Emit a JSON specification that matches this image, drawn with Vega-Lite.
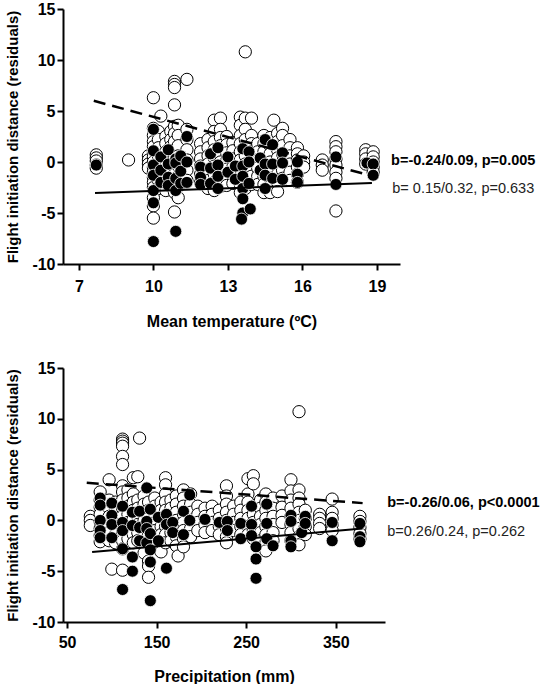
{
  "$schema": "https://vega.github.io/schema/vega-lite/v6.json",
  "description": "Flight initiation distance residuals vs mean temperature and precipitation",
  "padding": {"left": 5, "top": 1, "right": 0, "bottom": 0},
  "spacing": 31,
  "config": {
    "view": {"stroke": null},
    "font": "Liberation Sans",
    "axis": {
      "grid": false,
      "domainColor": "black",
      "domainWidth": 2,
      "tickColor": "black",
      "tickWidth": 2,
      "tickSize": 6,
      "labelFont": "Liberation Sans",
      "labelFontWeight": "bold",
      "labelFontSize": 16,
      "labelColor": "black",
      "titleFont": "Liberation Sans",
      "titleFontWeight": "bold",
      "titleColor": "black",
      "labelExpr": "datum.value + ''"
    }
  },
  "datasets": {
    "tempOpen": [
      {"x":7.7,"y":0.7},{"x":7.7,"y":0.4},{"x":7.7,"y":0.1},{"x":7.7,"y":-0.3},{"x":7.7,"y":-0.6},
      {"x":9.0,"y":0.2},
      {"x":9.8,"y":0.6},{"x":9.8,"y":0.2},{"x":9.8,"y":-0.2},{"x":9.8,"y":-0.6},
      {"x":10.0,"y":6.3},{"x":10.0,"y":3.3},{"x":10.0,"y":2.6},{"x":10.0,"y":2.0},{"x":10.0,"y":1.5},{"x":10.0,"y":1.0},{"x":10.0,"y":0.5},{"x":10.0,"y":0},{"x":10.0,"y":-0.5},{"x":10.0,"y":-1.0},{"x":10.0,"y":-1.5},{"x":10.0,"y":-2.0},{"x":10.0,"y":-2.5},{"x":10.0,"y":-3.5},{"x":10.0,"y":-4.3},{"x":10.0,"y":-5.5},
      {"x":10.2,"y":3.0},{"x":10.2,"y":2.2},{"x":10.2,"y":1.4},{"x":10.2,"y":0.6},{"x":10.2,"y":-0.2},{"x":10.2,"y":-1.0},{"x":10.2,"y":-1.8},{"x":10.2,"y":-2.6},
      {"x":10.3,"y":4.5},
      {"x":10.5,"y":2.5},{"x":10.5,"y":1.8},{"x":10.5,"y":1.0},{"x":10.5,"y":0.3},{"x":10.5,"y":-0.4},{"x":10.5,"y":-1.2},{"x":10.5,"y":-2.0},{"x":10.5,"y":-2.8},
      {"x":10.7,"y":3.0},{"x":10.7,"y":2.2},{"x":10.7,"y":1.5},{"x":10.7,"y":0.7},{"x":10.7,"y":0},{"x":10.7,"y":-0.8},{"x":10.7,"y":-1.6},{"x":10.7,"y":-2.4},
      {"x":10.85,"y":7.9},{"x":10.85,"y":7.6},{"x":10.85,"y":7.3},{"x":10.85,"y":5.6},{"x":10.85,"y":3.5},{"x":10.85,"y":2.8},{"x":10.85,"y":2.0},{"x":10.85,"y":1.2},{"x":10.85,"y":0.4},{"x":10.85,"y":-0.4},{"x":10.85,"y":-1.2},{"x":10.85,"y":-2.0},{"x":10.85,"y":-3.0},{"x":10.85,"y":-4.9},
      {"x":11.0,"y":3.6},{"x":11.0,"y":2.6},{"x":11.0,"y":1.6},{"x":11.0,"y":0.6},{"x":11.0,"y":-0.4},{"x":11.0,"y":-1.4},{"x":11.0,"y":-2.4},{"x":11.0,"y":-3.5},
      {"x":11.35,"y":8.1},{"x":11.35,"y":3.2},{"x":11.35,"y":2.2},{"x":11.35,"y":1.2},{"x":11.35,"y":0.2},{"x":11.35,"y":-0.8},{"x":11.35,"y":-1.8},
      {"x":11.9,"y":1.8},{"x":11.9,"y":1.0},{"x":11.9,"y":0.3},{"x":11.9,"y":-0.4},{"x":11.9,"y":-1.2},{"x":11.9,"y":-2.0},
      {"x":12.2,"y":2.2},{"x":12.2,"y":1.4},{"x":12.2,"y":0.6},{"x":12.2,"y":-0.2},{"x":12.2,"y":-1.0},{"x":12.2,"y":-1.8},{"x":12.2,"y":-2.6},
      {"x":12.45,"y":4.1},{"x":12.45,"y":3.0},{"x":12.45,"y":2.0},{"x":12.45,"y":1.2},{"x":12.45,"y":0.4},{"x":12.45,"y":-0.4},{"x":12.45,"y":-1.2},{"x":12.45,"y":-2.0},{"x":12.45,"y":-2.8},
      {"x":12.7,"y":4.3},{"x":12.7,"y":3.2},{"x":12.7,"y":2.4},{"x":12.7,"y":1.6},{"x":12.7,"y":0.8},{"x":12.7,"y":0},{"x":12.7,"y":-0.8},{"x":12.7,"y":-1.6},{"x":12.7,"y":-2.4},
      {"x":12.95,"y":2.5},{"x":12.95,"y":1.7},{"x":12.95,"y":0.9},{"x":12.95,"y":0.1},{"x":12.95,"y":-0.7},{"x":12.95,"y":-1.5},{"x":12.95,"y":-2.3},
      {"x":13.2,"y":1.9},{"x":13.2,"y":1.1},{"x":13.2,"y":0.3},{"x":13.2,"y":-0.5},{"x":13.2,"y":-1.3},{"x":13.2,"y":-2.1},
      {"x":13.5,"y":4.4},{"x":13.5,"y":3.6},{"x":13.5,"y":2.6},{"x":13.5,"y":1.8},{"x":13.5,"y":1.0},{"x":13.5,"y":0.2},{"x":13.5,"y":-0.6},{"x":13.5,"y":-1.4},{"x":13.5,"y":-2.2},{"x":13.5,"y":-3.0},
      {"x":13.7,"y":10.8},{"x":13.7,"y":4.3},{"x":13.7,"y":3.2},{"x":13.7,"y":2.2},{"x":13.7,"y":1.4},{"x":13.7,"y":0.6},{"x":13.7,"y":-0.2},{"x":13.7,"y":-1.0},{"x":13.7,"y":-1.8},{"x":13.7,"y":-2.6},
      {"x":13.95,"y":4.3},{"x":13.95,"y":2.6},{"x":13.95,"y":1.8},{"x":13.95,"y":1.0},{"x":13.95,"y":0.2},{"x":13.95,"y":-0.6},{"x":13.95,"y":-1.4},{"x":13.95,"y":-2.2},
      {"x":14.2,"y":1.8},{"x":14.2,"y":1.0},{"x":14.2,"y":0.2},{"x":14.2,"y":-0.6},{"x":14.2,"y":-1.4},{"x":14.2,"y":-2.2},
      {"x":14.45,"y":2.6},{"x":14.45,"y":1.8},{"x":14.45,"y":1.0},{"x":14.45,"y":0.2},{"x":14.45,"y":-0.6},{"x":14.45,"y":-1.4},{"x":14.45,"y":-2.2},{"x":14.45,"y":-3.0},
      {"x":14.7,"y":2.4},{"x":14.7,"y":1.6},{"x":14.7,"y":0.8},{"x":14.7,"y":0},{"x":14.7,"y":-0.8},{"x":14.7,"y":-1.6},{"x":14.7,"y":-2.4},{"x":14.7,"y":-3.0},
      {"x":14.85,"y":4.1},
      {"x":15.0,"y":2.8},{"x":15.0,"y":2.0},{"x":15.0,"y":1.2},{"x":15.0,"y":0.4},{"x":15.0,"y":-0.4},{"x":15.0,"y":-1.2},{"x":15.0,"y":-2.0},{"x":15.0,"y":-2.9},
      {"x":15.2,"y":3.3},{"x":15.2,"y":2.6},{"x":15.2,"y":1.6},{"x":15.2,"y":0.8},{"x":15.2,"y":0},{"x":15.2,"y":-0.8},{"x":15.2,"y":-1.6},
      {"x":15.5,"y":2.2},{"x":15.5,"y":1.4},{"x":15.5,"y":0.6},{"x":15.5,"y":-0.2},{"x":15.5,"y":-1.0},{"x":15.5,"y":-1.8},
      {"x":15.8,"y":1.4},{"x":15.8,"y":0.8},{"x":15.8,"y":0.2},{"x":15.8,"y":-0.5},{"x":15.8,"y":-1.2},{"x":15.8,"y":-2.0},
      {"x":16.05,"y":0.6},{"x":16.05,"y":0},{"x":16.05,"y":-0.5},
      {"x":16.8,"y":0.2},{"x":16.8,"y":-0.3},{"x":16.8,"y":-0.8},
      {"x":17.35,"y":2.0},{"x":17.35,"y":1.5},{"x":17.35,"y":1.0},{"x":17.35,"y":0.3},{"x":17.35,"y":-0.3},{"x":17.35,"y":-1.0},{"x":17.35,"y":-1.6},{"x":17.35,"y":-4.8},
      {"x":18.55,"y":1.2},{"x":18.55,"y":0.8},{"x":18.55,"y":0.3},{"x":18.55,"y":-0.2},
      {"x":18.85,"y":1.0},{"x":18.85,"y":0.5},{"x":18.85,"y":0},{"x":18.85,"y":-0.5},{"x":18.85,"y":-1.0}
    ],
    "tempFilled": [
      {"x":7.7,"y":-0.3},
      {"x":10.0,"y":3.2},{"x":10.0,"y":1.1},{"x":10.0,"y":-0.3},{"x":10.0,"y":-1.3},{"x":10.0,"y":-2.8},{"x":10.0,"y":-4.0},{"x":10.0,"y":-7.8},
      {"x":10.3,"y":0.5},{"x":10.3,"y":-0.8},{"x":10.3,"y":-2.0},
      {"x":10.6,"y":1.2},{"x":10.6,"y":-0.2},{"x":10.6,"y":-1.5},{"x":10.6,"y":-2.3},
      {"x":10.9,"y":0.3},{"x":10.9,"y":-0.1},{"x":10.9,"y":-1.6},{"x":10.9,"y":-2.8},{"x":10.9,"y":-6.8},
      {"x":11.1,"y":0.6},{"x":11.1,"y":-0.9},{"x":11.1,"y":-2.1},
      {"x":11.35,"y":2.5},{"x":11.35,"y":0},{"x":11.35,"y":-2.0},
      {"x":11.9,"y":-0.5},{"x":11.9,"y":-1.5},{"x":11.9,"y":-2.2},
      {"x":12.3,"y":0.8},{"x":12.3,"y":-0.6},{"x":12.3,"y":-2.1},
      {"x":12.6,"y":1.4},{"x":12.6,"y":-0.3},{"x":12.6,"y":-1.4},{"x":12.6,"y":-2.6},
      {"x":13.0,"y":0.5},{"x":13.0,"y":-1.0},
      {"x":13.3,"y":-0.4},{"x":13.3,"y":-1.7},
      {"x":13.6,"y":1.3},{"x":13.6,"y":-0.4},{"x":13.6,"y":-1.4},{"x":13.6,"y":-2.6},{"x":13.6,"y":-3.6},{"x":13.6,"y":-5.0},{"x":13.55,"y":-5.6},
      {"x":13.85,"y":1.0},{"x":13.85,"y":0},{"x":13.85,"y":-2.1},{"x":13.9,"y":-4.6},
      {"x":14.3,"y":0.4},{"x":14.3,"y":-0.8},
      {"x":14.5,"y":2.2},{"x":14.5,"y":-0.2},{"x":14.5,"y":-1.3},{"x":14.5,"y":-2.6},
      {"x":14.8,"y":1.7},{"x":14.8,"y":-0.2},{"x":14.8,"y":-1.6},
      {"x":15.2,"y":0.9},{"x":15.2,"y":-0.1},{"x":15.2,"y":-1.7},
      {"x":15.8,"y":0},{"x":15.8,"y":-1.2},{"x":15.8,"y":-2.0},
      {"x":17.35,"y":0.5},{"x":17.35,"y":-2.2},
      {"x":18.6,"y":-0.1},
      {"x":18.85,"y":-0.2},{"x":18.85,"y":-1.3}
    ],
    "tempFits": [
      {"x":7.6,"y":6.0,"fit":"dashed"},{"x":18.85,"y":-1.4,"fit":"dashed"},
      {"x":7.65,"y":-3.05,"fit":"solid"},{"x":18.8,"y":-2.05,"fit":"solid"}
    ],
    "tempNotes": [
      {"x":19.57,"y":0.1,"label":"b=-0.24/0.09, p=0.005","weight":"bold"},
      {"x":19.62,"y":-2.65,"label":"b= 0.15/0.32, p=0.633","weight":"normal"}
    ],
    "precOpen": [
      {"x":76,"y":0.4},{"x":76,"y":0},{"x":76,"y":-0.5},
      {"x":87,"y":2.8},{"x":87,"y":2.0},{"x":87,"y":1.3},{"x":87,"y":0.6},{"x":87,"y":-0.1},{"x":87,"y":-0.8},{"x":87,"y":-1.5},{"x":87,"y":-2.1},
      {"x":97,"y":4.0},{"x":97,"y":2.0},{"x":97,"y":1.2},{"x":97,"y":0.4},{"x":97,"y":-0.4},{"x":97,"y":-1.2},{"x":97,"y":-2.0},{"x":100,"y":-4.8},
      {"x":104,"y":1.8},{"x":104,"y":1.0},{"x":104,"y":0.2},{"x":104,"y":-0.6},{"x":104,"y":-1.4},{"x":104,"y":-2.2},
      {"x":112,"y":8.0},{"x":112,"y":7.8},{"x":112,"y":7.6},{"x":112,"y":7.3},{"x":112,"y":6.3},{"x":112,"y":5.5},{"x":112,"y":3.4},{"x":112,"y":2.8},{"x":112,"y":2.0},{"x":112,"y":1.2},{"x":112,"y":0.4},{"x":112,"y":-0.4},{"x":112,"y":-1.2},{"x":112,"y":-2.0},{"x":112,"y":-2.8},{"x":112,"y":-4.9},
      {"x":118,"y":3.0},{"x":118,"y":2.2},{"x":118,"y":1.4},{"x":118,"y":0.6},{"x":118,"y":-0.2},{"x":118,"y":-1.0},{"x":118,"y":-1.8},
      {"x":124,"y":4.2},{"x":124,"y":2.6},{"x":124,"y":1.8},{"x":124,"y":1.0},{"x":124,"y":0.2},{"x":124,"y":-0.6},{"x":124,"y":-1.4},{"x":124,"y":-2.2},
      {"x":129,"y":4.3},{"x":129,"y":2.0},{"x":129,"y":1.2},{"x":129,"y":0.4},{"x":129,"y":-0.4},{"x":129,"y":-1.2},{"x":129,"y":-2.0},
      {"x":131,"y":8.1},
      {"x":136,"y":2.4},{"x":136,"y":1.6},{"x":136,"y":0.8},{"x":136,"y":0},{"x":136,"y":-0.8},{"x":136,"y":-1.6},{"x":136,"y":-2.4},{"x":136,"y":-3.2},
      {"x":141,"y":1.8},{"x":141,"y":1.0},{"x":141,"y":0.2},{"x":141,"y":-0.6},{"x":141,"y":-1.4},{"x":141,"y":-2.2},{"x":141,"y":-4.0},{"x":141,"y":-4.5},{"x":141,"y":-5.6},
      {"x":148,"y":2.2},{"x":148,"y":1.4},{"x":148,"y":0.6},{"x":148,"y":-0.2},{"x":148,"y":-1.0},{"x":148,"y":-1.8},{"x":148,"y":-2.6},
      {"x":155,"y":1.8},{"x":155,"y":1.0},{"x":155,"y":0.2},{"x":155,"y":-0.6},{"x":155,"y":-1.4},{"x":155,"y":-2.2},{"x":155,"y":-3.1},
      {"x":160,"y":4.2},{"x":160,"y":3.5},{"x":160,"y":2.6},{"x":160,"y":1.8},{"x":160,"y":1.0},{"x":160,"y":0.2},{"x":160,"y":-0.6},{"x":160,"y":-1.4},{"x":160,"y":-2.2},
      {"x":166,"y":2.0},{"x":166,"y":1.2},{"x":166,"y":0.4},{"x":166,"y":-0.4},{"x":166,"y":-1.2},{"x":166,"y":-2.0},
      {"x":172,"y":2.4},{"x":172,"y":1.6},{"x":172,"y":0.8},{"x":172,"y":0},{"x":172,"y":-0.8},{"x":172,"y":-1.6},{"x":172,"y":-2.5},{"x":174,"y":-3.5},
      {"x":180,"y":3.0},{"x":180,"y":2.2},{"x":180,"y":1.4},{"x":180,"y":0.6},{"x":180,"y":-0.2},{"x":180,"y":-1.0},{"x":180,"y":-1.8},{"x":180,"y":-2.6},
      {"x":188,"y":2.6},{"x":188,"y":1.6},{"x":188,"y":0.8},{"x":188,"y":0},{"x":188,"y":-0.8},{"x":188,"y":-1.6},
      {"x":196,"y":1.4},{"x":196,"y":0.6},{"x":196,"y":-0.2},{"x":196,"y":-1.0},
      {"x":204,"y":1.2},{"x":204,"y":0.4},{"x":204,"y":-0.4},{"x":204,"y":-1.2},
      {"x":212,"y":1.4},{"x":212,"y":0.6},{"x":212,"y":-0.2},{"x":212,"y":-1.0},
      {"x":220,"y":1.0},{"x":220,"y":0.2},{"x":220,"y":-0.6},{"x":220,"y":-1.4},
      {"x":228,"y":3.4},{"x":228,"y":2.4},{"x":228,"y":1.6},{"x":228,"y":0.8},{"x":228,"y":0},{"x":228,"y":-0.8},{"x":228,"y":-1.6},{"x":228,"y":-2.2},
      {"x":236,"y":1.4},{"x":236,"y":0.6},{"x":236,"y":-0.2},{"x":236,"y":-1.0},
      {"x":244,"y":1.8},{"x":244,"y":1.0},{"x":244,"y":0.2},{"x":244,"y":-0.6},{"x":244,"y":-1.4},
      {"x":252,"y":4.1},{"x":252,"y":2.6},{"x":252,"y":1.8},{"x":252,"y":1.0},{"x":252,"y":0.2},{"x":252,"y":-0.6},{"x":252,"y":-1.4},
      {"x":258,"y":4.4},{"x":258,"y":3.6},{"x":258,"y":1.4},{"x":258,"y":0.6},{"x":258,"y":-0.2},{"x":258,"y":-1.0},{"x":258,"y":-1.8},
      {"x":266,"y":2.0},{"x":266,"y":1.2},{"x":266,"y":0.4},{"x":266,"y":-0.4},{"x":266,"y":-1.2},{"x":266,"y":-2.0},
      {"x":272,"y":2.6},{"x":272,"y":1.8},{"x":272,"y":1.0},{"x":272,"y":0.2},{"x":272,"y":-0.6},{"x":272,"y":-1.4},{"x":272,"y":-2.2},{"x":272,"y":-3.0},
      {"x":280,"y":2.2},{"x":280,"y":1.2},{"x":280,"y":0.4},{"x":280,"y":-0.4},{"x":280,"y":-1.2},{"x":280,"y":-2.0},
      {"x":290,"y":2.4},{"x":290,"y":1.3},{"x":290,"y":0.5},{"x":290,"y":-0.2},
      {"x":300,"y":4.0},{"x":300,"y":2.9},{"x":300,"y":2.0},{"x":300,"y":1.2},{"x":300,"y":0.4},{"x":300,"y":-0.4},{"x":300,"y":-1.2},{"x":300,"y":-2.0},
      {"x":309,"y":10.7},{"x":309,"y":3.0},{"x":309,"y":2.2},{"x":309,"y":1.6},{"x":309,"y":0.8},{"x":309,"y":0},{"x":309,"y":-0.8},{"x":309,"y":-1.6},{"x":309,"y":-2.4},
      {"x":316,"y":1.0},{"x":316,"y":0.2},{"x":316,"y":-0.6},{"x":316,"y":-1.4},
      {"x":332,"y":0.6},{"x":332,"y":0.2},{"x":332,"y":-0.3},{"x":332,"y":-0.8},
      {"x":346,"y":2.1},{"x":346,"y":0.8},{"x":346,"y":0.2},{"x":346,"y":-0.4},{"x":346,"y":-1.0},
      {"x":377,"y":0.4},{"x":377,"y":-0.1},{"x":377,"y":-0.7},{"x":377,"y":-1.3},{"x":377,"y":-1.8}
    ],
    "precFilled": [
      {"x":87,"y":2.2},{"x":87,"y":1.5},{"x":87,"y":0},{"x":87,"y":-1.0},{"x":87,"y":-1.7},
      {"x":100,"y":1.7},{"x":100,"y":0.5},{"x":100,"y":-0.4},{"x":100,"y":-1.7},
      {"x":112,"y":1.4},{"x":112,"y":-0.2},{"x":112,"y":-1.0},{"x":112,"y":-2.8},{"x":112,"y":-6.8},
      {"x":123,"y":0.8},{"x":123,"y":-0.5},{"x":123,"y":-3.6},{"x":123,"y":-5.0},
      {"x":131,"y":0.9},{"x":131,"y":-0.7},{"x":131,"y":-2.0},
      {"x":139,"y":3.2},{"x":139,"y":-0.1},{"x":139,"y":-0.8},{"x":139,"y":-2.2},
      {"x":143,"y":1.1},{"x":143,"y":-1.3},{"x":143,"y":-2.9},{"x":143,"y":-4.1},{"x":143,"y":-7.9},
      {"x":152,"y":0.3},{"x":152,"y":-2.0},
      {"x":161,"y":0.6},{"x":161,"y":-0.4},{"x":161,"y":-4.7},
      {"x":168,"y":-0.2},{"x":168,"y":-1.2},
      {"x":180,"y":0.9},{"x":180,"y":-1.4},
      {"x":187,"y":2.5},{"x":187,"y":0},
      {"x":204,"y":0.1},
      {"x":220,"y":-0.2},
      {"x":229,"y":-0.1},{"x":229,"y":-1.0},
      {"x":244,"y":-0.3},{"x":244,"y":-1.8},
      {"x":256,"y":1.4},{"x":256,"y":-0.4},{"x":256,"y":-1.5},
      {"x":261,"y":-2.6},{"x":261,"y":-3.8},{"x":261,"y":-5.7},
      {"x":273,"y":1.6},{"x":273,"y":-0.3},{"x":273,"y":-1.8},
      {"x":280,"y":-2.5},
      {"x":300,"y":0.5},{"x":300,"y":-0.1},{"x":300,"y":-2.0},{"x":300,"y":-2.6},
      {"x":312,"y":-1.2},
      {"x":316,"y":0.4},{"x":316,"y":-0.3},
      {"x":346,"y":-0.2},{"x":346,"y":-2.0},
      {"x":377,"y":-0.3},{"x":377,"y":-1.6},{"x":377,"y":-2.1}
    ],
    "precFits": [
      {"x":72,"y":3.7,"fit":"dashed"},{"x":380,"y":1.7,"fit":"dashed"},
      {"x":78,"y":-3.1,"fit":"solid"},{"x":380,"y":-0.8,"fit":"solid"}
    ],
    "precNotes": [
      {"x":407.5,"y":1.7,"label":"b=-0.26/0.06, p<0.0001","weight":"bold"},
      {"x":407.5,"y":-1.15,"label":"b=0.26/0.24, p=0.262","weight":"normal"}
    ]
  },
  "vconcat": [
    {
      "width": 337,
      "height": 255,
      "encoding": {
        "x": {
          "field": "x", "type": "quantitative",
          "scale": {"domain": [6.36, 19.93], "nice": false, "zero": false},
          "axis": {"values": [7, 10, 13, 16, 19], "title": "Mean temperature (ºC)", "titleFontSize": 16, "labelFontWeight": "bold", "labelPadding": 8, "titlePadding": 19}
        },
        "y": {
          "field": "y", "type": "quantitative",
          "scale": {"domain": [-10, 15], "nice": false, "zero": false},
          "axis": {"values": [-10, -5, 0, 5, 10, 15], "title": "Flight initiation distance (residuals)", "titleFontSize": 15, "labelFontWeight": "bold", "labelPadding": 2, "titlePadding": 11}
        }
      },
      "layer": [
        {
          "data": {"name": "tempOpen"},
          "mark": {"type": "point", "shape": "circle", "filled": true, "fill": "white", "stroke": "black", "strokeWidth": 1, "size": 150, "opacity": 1}
        },
        {
          "data": {"name": "tempFilled"},
          "mark": {"type": "point", "shape": "circle", "filled": true, "fill": "black", "stroke": "white", "strokeWidth": 0.8, "size": 145, "opacity": 1}
        },
        {
          "data": {"name": "tempFits"},
          "transform": [{"filter": "datum.fit == 'dashed'"}],
          "mark": {"type": "line", "color": "black", "strokeWidth": 2.5, "strokeDash": [12, 7]}
        },
        {
          "data": {"name": "tempFits"},
          "transform": [{"filter": "datum.fit == 'solid'"}],
          "mark": {"type": "line", "color": "black", "strokeWidth": 2}
        },
        {
          "data": {"name": "tempNotes"},
          "transform": [{"filter": "datum.weight == 'bold'"}],
          "mark": {"type": "text", "align": "left", "baseline": "middle", "fontSize": 14.5, "fontWeight": "bold", "font": "Liberation Sans", "color": "black"},
          "encoding": {"text": {"field": "label"}}
        },
        {
          "data": {"name": "tempNotes"},
          "transform": [{"filter": "datum.weight == 'normal'"}],
          "mark": {"type": "text", "align": "left", "baseline": "middle", "fontSize": 14.5, "fontWeight": "normal", "font": "Liberation Sans", "color": "#222222"},
          "encoding": {"text": {"field": "label"}}
        }
      ]
    },
    {
      "width": 322,
      "height": 254,
      "encoding": {
        "x": {
          "field": "x", "type": "quantitative",
          "scale": {"domain": [45.5, 405], "nice": false, "zero": false},
          "axis": {"values": [50, 150, 250, 350], "title": "Precipitation (mm)", "titleFontSize": 16, "labelFontWeight": "bold", "labelPadding": 6, "titlePadding": 18}
        },
        "y": {
          "field": "y", "type": "quantitative",
          "scale": {"domain": [-10, 15], "nice": false, "zero": false},
          "axis": {"values": [-10, -5, 0, 5, 10, 15], "title": "Flight initiation distance (residuals)", "titleFontSize": 15, "labelFontWeight": "bold", "labelPadding": 2, "titlePadding": 11}
        }
      },
      "layer": [
        {
          "data": {"name": "precOpen"},
          "mark": {"type": "point", "shape": "circle", "filled": true, "fill": "white", "stroke": "black", "strokeWidth": 1, "size": 150, "opacity": 1}
        },
        {
          "data": {"name": "precFilled"},
          "mark": {"type": "point", "shape": "circle", "filled": true, "fill": "black", "stroke": "white", "strokeWidth": 0.8, "size": 145, "opacity": 1}
        },
        {
          "data": {"name": "precFits"},
          "transform": [{"filter": "datum.fit == 'dashed'"}],
          "mark": {"type": "line", "color": "black", "strokeWidth": 2.5, "strokeDash": [12, 7]}
        },
        {
          "data": {"name": "precFits"},
          "transform": [{"filter": "datum.fit == 'solid'"}],
          "mark": {"type": "line", "color": "black", "strokeWidth": 2}
        },
        {
          "data": {"name": "precNotes"},
          "transform": [{"filter": "datum.weight == 'bold'"}],
          "mark": {"type": "text", "align": "left", "baseline": "middle", "fontSize": 14.5, "fontWeight": "bold", "font": "Liberation Sans", "color": "black"},
          "encoding": {"text": {"field": "label"}}
        },
        {
          "data": {"name": "precNotes"},
          "transform": [{"filter": "datum.weight == 'normal'"}],
          "mark": {"type": "text", "align": "left", "baseline": "middle", "fontSize": 14.5, "fontWeight": "normal", "font": "Liberation Sans", "color": "#222222"},
          "encoding": {"text": {"field": "label"}}
        }
      ]
    }
  ]
}
